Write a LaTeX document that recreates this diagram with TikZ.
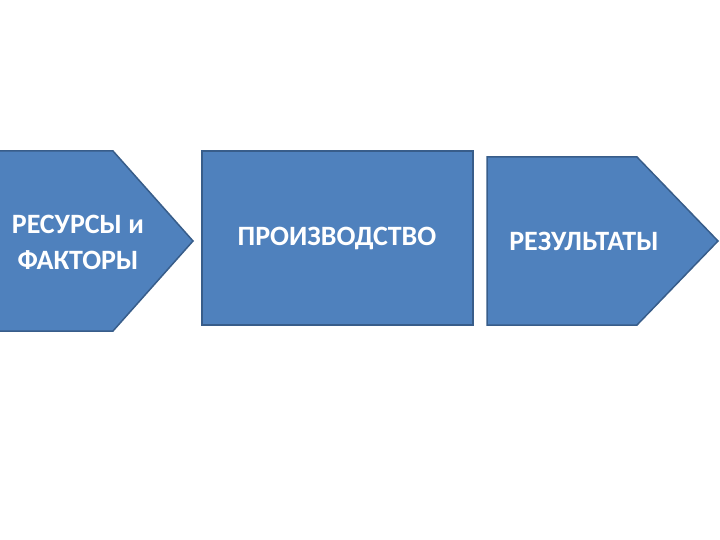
\documentclass[tikz,border=0pt]{standalone}
\usepackage{fontspec}
\setmainfont{Carlito}
\definecolor{stagefill}{HTML}{4F81BD}
\definecolor{stageline}{HTML}{385D8A}
\tikzset{
  stage/.style={fill=stagefill, draw=stageline, line width=1.5pt, line join=miter},
  stagetext/.style={text=white, font=\bfseries\fontsize{28}{36}\selectfont, align=center, inner sep=0pt}
}
\begin{document}
\begin{tikzpicture}[x=1pt,y=-1pt]
\useasboundingbox (0,0) rectangle (720,540);

% input pentagon
\draw[stage] (-1,151) -- (113,151) -- (193,241) -- (113,331) -- (-1,331) -- cycle;
% process box
\draw[stage] (202,151) rectangle (473,325);
% output pentagon
\draw[stage] (487,157) -- (637,157) -- (718,241) -- (637,325) -- (487,325) -- cycle;

\node[stagetext] (res) at (78,242) {РЕСУРСЫ и\\ФАКТОРЫ};
\node[stagetext] (prod) at (337,238) {ПРОИЗВОДСТВО};
\node[stagetext] (out) at (584,241) {РЕЗУЛЬТАТЫ};
\end{tikzpicture}
\end{document}
